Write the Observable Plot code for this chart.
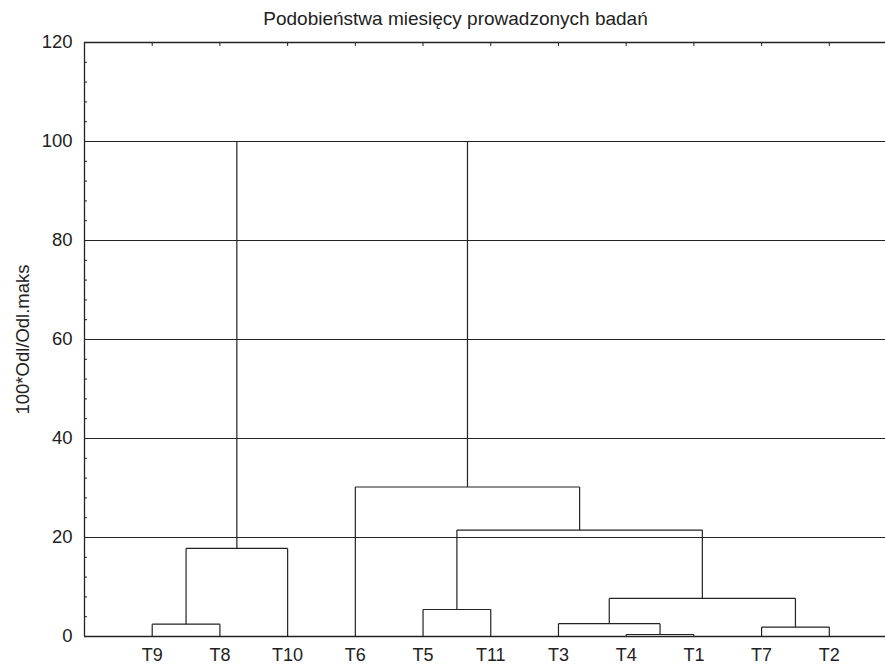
<!DOCTYPE html>
<html>
<head>
<meta charset="utf-8">
<script src="https://cdn.jsdelivr.net/npm/d3@7"></script>
<script src="https://cdn.jsdelivr.net/npm/@observablehq/plot@0.6"></script>
<style>
  html, body { margin: 0; padding: 0; background: #fff; }
  #wrap { position: relative; width: 885px; height: 666px; font-family: "Liberation Sans", Arial, sans-serif; }
  #title { position: absolute; top: 9px; left: 0; width: 911px; text-align: center; font-size: 19px; line-height: 19px; color: #222; z-index: 2; }
  #chart { position: absolute; top: 0; left: 0; z-index: 1; }
</style>
</head>
<body>
<div id="wrap">
  <div id="title">Podobieństwa miesięcy prowadzonych badań</div>
  <div id="chart"></div>
</div>
<script>
// Leaf order along the x axis
const leaves = ["T9", "T8", "T10", "T6", "T5", "T11", "T3", "T4", "T1", "T7", "T2"];
// Merges (linkage): name, left child, right child, height (100*Odl/Odl.maks)
const mergeNames   = ["G1",  "G2",  "G3",  "G4",  "G5",  "G6",  "G7",  "G8",  "G9",  "G10"];
const mergeLeft    = ["T9",  "G1",  "T4",  "T3",  "T7",  "G4",  "T5",  "G7",  "T6",  "G2"];
const mergeRight   = ["T8",  "T10", "T1",  "G3",  "T2",  "G5",  "T11", "G6",  "G8",  "G9"];
const mergeHeights = [2.5,   17.8,  0.4,   2.6,   1.9,   7.7,   5.45,  21.5,  30.2,  100];
// Axis ticks
const yMajorTicks = [0, 20, 40, 60, 80, 100, 120];
const yMinorTicks = d3.range(0, 121, 4).filter(v => v % 20 !== 0);
const gridLines = [20, 40, 60, 80, 100];

// Node positions derived from the data
const pos = new Map(leaves.map((l, i) => [l, {x: i, h: 0}]));
const segs = [];
mergeNames.forEach((name, i) => {
  const a = pos.get(mergeLeft[i]), b = pos.get(mergeRight[i]), h = mergeHeights[i];
  segs.push({x1: a.x, x2: b.x, y1: h, y2: h});
  segs.push({x1: a.x, x2: a.x, y1: a.h, y2: h});
  segs.push({x1: b.x, x2: b.x, y1: b.h, y2: h});
  pos.set(name, {x: (a.x + b.x) / 2, h});
});
const leafIdx = leaves.map((_, i) => i);

const ink = "#222";
const chart = Plot.plot({
  width: 885,
  height: 666,
  marginTop: 42,
  marginBottom: 30,
  marginLeft: 84,
  marginRight: 0,
  style: {fontFamily: "'Liberation Sans', Arial, sans-serif", fontSize: "18px", color: ink, background: "#fff"},
  x: {domain: [-1, 10.83], axis: null},
  y: {domain: [0, 120], axis: null},
  marks: [
    Plot.ruleY(gridLines, {stroke: ink, strokeWidth: 1.1}),
    Plot.ruleY([0, 120], {stroke: ink, strokeWidth: 1.3}),
    Plot.ruleX([-1], {stroke: ink, strokeWidth: 1.3}),
    Plot.link(segs, {x1: "x1", x2: "x2", y1: "y1", y2: "y2", stroke: ink, strokeWidth: 1.2}),
    Plot.axisY({ticks: yMajorTicks, tickSize: 0, tickPadding: 12, fontSize: 18.5,
      label: "100*Odl/Odl.maks", labelAnchor: "center", labelOffset: 69, labelArrow: "none"}),
    Plot.axisY({ticks: yMinorTicks, tickSize: -3, tickFormat: () => "", label: null, stroke: ink}),
    Plot.axisX({anchor: "top", ticks: leafIdx, tickSize: -3, tickFormat: () => "", label: null, stroke: ink}),
    Plot.axisX({anchor: "bottom", ticks: leafIdx, tickSize: 0, tickPadding: 12, fontSize: 18,
      tickFormat: i => leaves[i], label: null})
  ]
});
document.getElementById("chart").appendChild(chart);
</script>
</body>
</html>
